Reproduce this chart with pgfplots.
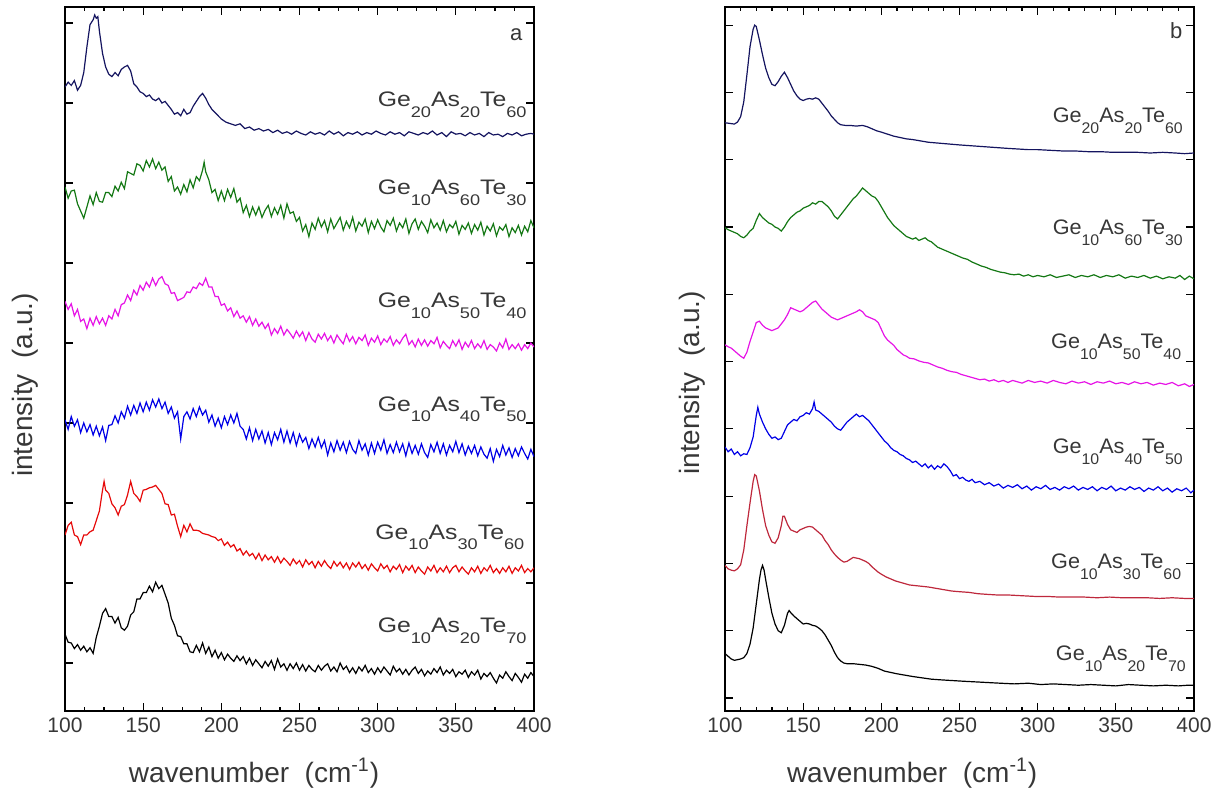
\documentclass[border=0pt]{standalone}
\usepackage{fontspec}
\setmainfont{Liberation Sans}
\usepackage{pgfplots}
\pgfplotsset{compat=1.18}

\definecolor{cnavy}{RGB}{20,20,95}
\definecolor{cgreen}{RGB}{20,120,20}
\definecolor{cmag}{RGB}{230,20,230}
\definecolor{cblue}{RGB}{0,0,230}
\definecolor{cred}{RGB}{230,10,10}
\definecolor{cdred}{RGB}{190,40,60}
\definecolor{txt}{RGB}{55,55,55}

\newcommand{\sub}[1]{\raisebox{-5.5pt}{\fontsize{7.7pt}{9pt}\selectfont #1}}
\newcommand{\comp}[3]{\scalebox{1.18}[1]{Ge\sub{#1}As\sub{#2}Te\sub{#3}}}
\newcommand{\compb}[3]{\scalebox{1.03}[1]{Ge\sub{#1}As\sub{#2}Te\sub{#3}}}

\tikzset{lab/.style={anchor=base east, inner sep=0pt, font=\fontsize{10.5pt}{12pt}\selectfont, text=txt}}

\pgfplotsset{
  spec/.style={
    anchor=south west, scale only axis,
    width=234.5pt, height=352pt,
    xmin=100, xmax=400,
    xtick={100,150,...,400},
    tick pos=both, tick align=inside,
    major tick length=4pt, minor tick length=2pt,
    yticklabels={},
    axis line style={line width=0.7pt}, every tick/.style={black, line width=0.6pt},
    /pgf/number format/assume math mode=true,
    ticklabel style={font=\fontsize{10.5pt}{12pt}\selectfont, text=txt},
    label style={font=\fontsize{14pt}{16pt}\selectfont, text=txt},
    xlabel={wavenumber\ \ (cm\textsuperscript{-1})},
    ylabel={intensity\ \ (a.u.)},
    every axis plot/.append style={line width=0.6pt, no marks},
  },
}

\begin{document}
\begin{tikzpicture}
\useasboundingbox (0,0) rectangle (610pt,396pt);

% ---------------- panel a ----------------
\begin{axis}[spec, at={(32.5pt,40.5pt)},
  ymin=-0.6, ymax=8.2, ytick={0,...,8}, minor x tick num=3,
  xlabel style={at={(axis description cs:0.403,-0.088)}, anchor=center},
  ylabel style={at={(axis description cs:-0.085,0.463)}, anchor=center},
]
\addplot[cnavy] coordinates {(100,7.20)(102,7.26)(104,7.22)(106,7.28)(108,7.16)(110,7.22)(112,7.38)(114,7.70)(116,7.98)(118,8.04)(119,8.10)(120,8.06)(121,8.08)(122,7.90)(124,7.62)(126,7.45)(128,7.36)(130,7.33)(132,7.38)(134,7.34)(136,7.42)(138,7.45)(140,7.47)(142,7.40)(144,7.24)(146,7.20)(148,7.14)(150,7.12)(152,7.08)(154,7.10)(156,7.05)(158,7.03)(160,7.06)(162,7.00)(164,7.02)(166,6.97)(168,6.92)(170,6.86)(172,6.88)(174,6.84)(176,6.92)(178,6.86)(180,6.88)(182,6.96)(184,7.02)(186,7.08)(188,7.12)(190,7.06)(192,6.98)(194,6.92)(196,6.88)(198,6.84)(200,6.80)(203,6.76)(206,6.74)(209,6.72)(212,6.74)(215,6.68)(218,6.70)(221,6.66)(224,6.68)(227,6.65)(230,6.67)(233,6.63)(236,6.66)(239,6.62)(242,6.64)(245,6.61)(248,6.65)(251,6.62)(254,6.60)(257,6.64)(260,6.61)(263,6.63)(266,6.60)(269,6.65)(272,6.61)(275,6.64)(278,6.59)(281,6.63)(284,6.61)(287,6.64)(290,6.60)(293,6.63)(296,6.61)(299,6.65)(302,6.62)(305,6.60)(308,6.64)(311,6.61)(314,6.63)(317,6.59)(320,6.64)(323,6.62)(326,6.60)(329,6.63)(332,6.61)(335,6.65)(338,6.60)(341,6.63)(344,6.58)(347,6.64)(350,6.61)(353,6.62)(356,6.59)(359,6.63)(362,6.60)(365,6.62)(368,6.58)(371,6.63)(374,6.60)(377,6.61)(380,6.58)(383,6.62)(386,6.60)(389,6.63)(392,6.59)(395,6.61)(398,6.62)(400,6.61)};
\addplot[cgreen] coordinates {(100,5.95)(102,5.81)(104,5.90)(106,5.91)(108,5.74)(110,5.65)(112,5.56)(114,5.70)(116,5.84)(118,5.73)(120,5.88)(122,5.77)(124,5.76)(126,5.88)(128,5.88)(130,5.83)(132,5.96)(134,5.90)(136,6.01)(138,5.93)(140,6.14)(142,6.12)(144,6.10)(146,6.24)(148,6.22)(150,6.15)(152,6.28)(154,6.20)(156,6.30)(158,6.18)(160,6.26)(162,6.16)(164,6.20)(166,6.02)(168,6.08)(170,5.90)(172,5.95)(174,5.86)(176,5.98)(178,5.89)(180,6.04)(182,5.94)(184,6.08)(186,6.03)(188,6.16)(189,6.26)(190,6.14)(192,6.04)(194,5.88)(196,5.92)(198,5.78)(200,5.90)(202,5.78)(204,5.92)(206,5.82)(208,5.93)(210,5.76)(212,5.81)(214,5.63)(216,5.72)(218,5.58)(220,5.70)(222,5.60)(224,5.70)(226,5.57)(228,5.66)(230,5.72)(232,5.58)(234,5.69)(236,5.61)(238,5.72)(240,5.56)(242,5.74)(244,5.62)(246,5.64)(248,5.52)(250,5.57)(252,5.40)(254,5.48)(256,5.33)(258,5.50)(260,5.42)(262,5.56)(264,5.45)(266,5.53)(268,5.39)(270,5.55)(272,5.43)(274,5.50)(276,5.57)(278,5.41)(280,5.52)(282,5.44)(284,5.57)(286,5.40)(288,5.51)(290,5.46)(292,5.55)(294,5.38)(296,5.52)(298,5.43)(300,5.54)(302,5.45)(304,5.39)(306,5.53)(308,5.47)(310,5.56)(312,5.40)(314,5.50)(316,5.44)(318,5.55)(320,5.37)(322,5.49)(324,5.55)(326,5.42)(328,5.52)(330,5.46)(332,5.38)(334,5.54)(336,5.44)(338,5.50)(340,5.41)(342,5.53)(344,5.39)(346,5.48)(348,5.44)(350,5.52)(352,5.36)(354,5.47)(356,5.42)(358,5.50)(360,5.37)(362,5.48)(364,5.41)(366,5.51)(368,5.35)(370,5.46)(372,5.40)(374,5.49)(376,5.34)(378,5.45)(380,5.41)(382,5.48)(384,5.33)(386,5.44)(388,5.38)(390,5.47)(392,5.35)(394,5.46)(396,5.39)(398,5.53)(400,5.44)};
\addplot[cmag] coordinates {(100,4.52)(102,4.42)(104,4.49)(106,4.34)(108,4.42)(110,4.27)(112,4.30)(114,4.18)(116,4.31)(118,4.22)(120,4.33)(122,4.24)(124,4.31)(126,4.22)(128,4.34)(130,4.30)(132,4.42)(134,4.34)(136,4.48)(138,4.50)(140,4.60)(142,4.53)(144,4.66)(146,4.60)(148,4.72)(150,4.66)(152,4.76)(154,4.70)(156,4.81)(158,4.72)(160,4.80)(162,4.83)(164,4.74)(166,4.72)(168,4.62)(170,4.63)(172,4.53)(174,4.55)(176,4.57)(178,4.64)(180,4.63)(182,4.70)(184,4.68)(186,4.75)(188,4.72)(190,4.81)(192,4.70)(194,4.70)(196,4.58)(198,4.58)(200,4.47)(202,4.49)(204,4.40)(206,4.44)(208,4.33)(210,4.40)(212,4.31)(214,4.34)(216,4.26)(218,4.33)(220,4.22)(222,4.30)(224,4.21)(226,4.26)(228,4.18)(230,4.24)(232,4.10)(234,4.18)(236,4.12)(238,4.21)(240,4.10)(242,4.17)(244,4.12)(246,4.06)(248,4.15)(250,4.08)(252,4.14)(254,4.03)(256,4.13)(258,4.05)(260,4.01)(262,4.11)(264,4.05)(266,4.12)(268,4.03)(270,4.09)(272,4.00)(274,4.10)(276,4.04)(278,3.99)(280,4.11)(282,4.02)(284,4.08)(286,3.99)(288,4.07)(290,4.03)(292,4.10)(294,3.97)(296,4.06)(298,4.01)(300,4.09)(302,3.98)(304,4.05)(306,4.01)(308,4.08)(310,3.97)(312,4.04)(314,3.99)(316,4.06)(318,4.11)(320,3.98)(322,4.03)(324,3.95)(326,4.05)(328,3.97)(330,4.04)(332,3.96)(334,4.03)(336,3.99)(338,4.07)(340,3.94)(342,4.02)(344,3.97)(346,3.93)(348,4.03)(350,3.96)(352,4.04)(354,3.92)(356,4.01)(358,3.95)(360,4.03)(362,3.93)(364,3.99)(366,3.94)(368,4.03)(370,3.92)(372,3.98)(374,3.95)(376,3.90)(378,4.00)(380,3.94)(382,4.05)(384,3.92)(386,3.98)(388,3.93)(390,3.99)(392,3.91)(394,3.98)(396,3.93)(398,4.00)(400,3.95)};
\addplot[cblue] coordinates {(100,3.04)(102,2.92)(104,3.08)(106,2.96)(108,3.04)(110,2.88)(112,3.00)(114,2.89)(116,2.98)(118,2.85)(120,2.96)(122,2.84)(124,2.95)(126,2.78)(128,2.97)(130,2.98)(132,3.09)(134,3.00)(136,3.14)(138,3.06)(140,3.21)(142,3.10)(144,3.22)(146,3.12)(148,3.25)(150,3.14)(152,3.26)(154,3.16)(156,3.29)(158,3.20)(160,3.30)(162,3.18)(164,3.26)(166,3.12)(168,3.20)(170,3.06)(172,3.14)(174,2.80)(176,3.08)(178,3.14)(180,3.05)(182,3.18)(184,3.08)(186,3.20)(188,3.10)(190,3.16)(192,3.01)(194,3.10)(196,2.96)(198,3.06)(200,2.94)(202,3.08)(204,2.98)(206,3.10)(208,3.00)(210,3.12)(212,2.96)(214,2.92)(216,2.80)(218,2.94)(220,2.78)(222,2.92)(224,2.80)(226,2.90)(228,2.75)(230,2.88)(232,2.73)(234,2.88)(236,2.79)(238,2.92)(240,2.76)(242,2.90)(244,2.75)(246,2.88)(248,2.72)(250,2.86)(252,2.76)(254,2.82)(256,2.68)(258,2.80)(260,2.70)(262,2.82)(264,2.69)(266,2.78)(268,2.60)(270,2.75)(272,2.64)(274,2.78)(276,2.66)(278,2.76)(280,2.63)(282,2.77)(284,2.67)(286,2.62)(288,2.78)(290,2.66)(292,2.74)(294,2.60)(296,2.75)(298,2.62)(300,2.76)(302,2.66)(304,2.79)(306,2.62)(308,2.73)(310,2.63)(312,2.76)(314,2.64)(316,2.74)(318,2.59)(320,2.75)(322,2.62)(324,2.72)(326,2.61)(328,2.74)(330,2.63)(332,2.57)(334,2.73)(336,2.64)(338,2.76)(340,2.62)(342,2.74)(344,2.60)(346,2.72)(348,2.64)(350,2.77)(352,2.63)(354,2.74)(356,2.60)(358,2.71)(360,2.62)(362,2.72)(364,2.59)(366,2.70)(368,2.61)(370,2.56)(372,2.68)(374,2.52)(376,2.67)(378,2.58)(380,2.72)(382,2.60)(384,2.69)(386,2.57)(388,2.68)(390,2.59)(392,2.70)(394,2.62)(396,2.55)(398,2.67)(400,2.58)};
\addplot[cred] coordinates {(100,1.60)(102,1.72)(104,1.76)(106,1.60)(108,1.58)(110,1.48)(112,1.60)(114,1.60)(116,1.64)(118,1.66)(120,1.78)(122,1.90)(124,2.16)(125,2.27)(126,2.16)(128,2.12)(130,1.99)(132,1.94)(134,1.85)(136,1.96)(138,1.98)(140,2.10)(142,2.27)(144,2.12)(146,2.08)(148,2.02)(150,2.16)(152,2.17)(154,2.19)(156,2.20)(158,2.22)(160,2.17)(162,2.12)(164,1.99)(166,1.98)(168,1.85)(170,1.86)(172,1.71)(174,1.58)(176,1.72)(178,1.64)(180,1.74)(182,1.66)(184,1.66)(186,1.65)(188,1.62)(190,1.61)(192,1.60)(194,1.58)(196,1.57)(198,1.53)(200,1.55)(202,1.47)(204,1.51)(206,1.45)(208,1.48)(210,1.40)(212,1.43)(214,1.35)(216,1.40)(218,1.34)(220,1.37)(222,1.30)(224,1.37)(226,1.28)(228,1.35)(230,1.29)(232,1.33)(234,1.26)(236,1.33)(238,1.25)(240,1.31)(242,1.27)(244,1.22)(246,1.30)(248,1.24)(250,1.28)(252,1.20)(254,1.29)(256,1.23)(258,1.27)(260,1.19)(262,1.27)(264,1.21)(266,1.28)(268,1.22)(270,1.18)(272,1.27)(274,1.21)(276,1.26)(278,1.19)(280,1.25)(282,1.17)(284,1.25)(286,1.20)(288,1.26)(290,1.18)(292,1.23)(294,1.16)(296,1.24)(298,1.19)(300,1.15)(302,1.24)(304,1.18)(306,1.22)(308,1.14)(310,1.21)(312,1.17)(314,1.23)(316,1.13)(318,1.21)(320,1.16)(322,1.22)(324,1.13)(326,1.20)(328,1.15)(330,1.11)(332,1.20)(334,1.15)(336,1.22)(338,1.13)(340,1.19)(342,1.14)(344,1.21)(346,1.13)(348,1.19)(350,1.22)(352,1.14)(354,1.20)(356,1.15)(358,1.11)(360,1.19)(362,1.14)(364,1.21)(366,1.12)(368,1.19)(370,1.15)(372,1.22)(374,1.13)(376,1.18)(378,1.12)(380,1.19)(382,1.14)(384,1.21)(386,1.12)(388,1.19)(390,1.15)(392,1.22)(394,1.13)(396,1.18)(398,1.14)(400,1.19)};
\addplot[black] coordinates {(100,0.36)(102,0.26)(104,0.25)(106,0.18)(108,0.23)(110,0.16)(112,0.21)(114,0.14)(116,0.19)(118,0.12)(120,0.32)(122,0.46)(124,0.62)(126,0.68)(128,0.58)(130,0.58)(132,0.50)(134,0.57)(136,0.44)(138,0.41)(140,0.46)(142,0.60)(144,0.64)(146,0.80)(148,0.80)(150,0.88)(152,0.88)(154,0.96)(156,0.89)(158,1.01)(160,0.93)(162,0.97)(164,0.86)(166,0.75)(168,0.56)(170,0.47)(172,0.34)(174,0.33)(176,0.24)(178,0.24)(180,0.14)(182,0.13)(184,0.22)(186,0.14)(188,0.25)(190,0.12)(192,0.20)(194,0.08)(196,0.16)(198,0.06)(200,0.13)(202,0.04)(204,0.11)(206,0.06)(208,0.02)(210,0.09)(212,0.03)(214,0.08)(216,-0.01)(218,0.06)(220,-0.03)(222,0.04)(224,-0.01)(226,-0.06)(228,0.02)(230,-0.04)(232,0.03)(234,-0.08)(236,0.05)(238,-0.05)(240,-0.01)(242,-0.09)(244,-0.01)(246,-0.07)(248,0.00)(250,-0.09)(252,-0.02)(254,-0.10)(256,-0.03)(258,-0.08)(260,-0.11)(262,-0.03)(264,-0.09)(266,-0.04)(268,-0.01)(270,-0.10)(272,-0.05)(274,-0.11)(276,0.00)(278,-0.08)(280,-0.04)(282,-0.12)(284,-0.06)(286,-0.13)(288,-0.05)(290,-0.10)(292,-0.03)(294,-0.12)(296,-0.07)(298,-0.14)(300,-0.06)(302,-0.12)(304,-0.05)(306,-0.10)(308,-0.15)(310,-0.04)(312,-0.11)(314,-0.07)(316,-0.14)(318,-0.08)(320,-0.15)(322,-0.09)(324,-0.05)(326,-0.13)(328,-0.08)(330,-0.16)(332,-0.10)(334,-0.14)(336,-0.07)(338,-0.12)(340,-0.05)(342,-0.15)(344,-0.09)(346,-0.13)(348,-0.08)(350,-0.17)(352,-0.11)(354,-0.14)(356,-0.09)(358,-0.18)(360,-0.11)(362,-0.15)(364,-0.09)(366,-0.20)(368,-0.13)(370,-0.17)(372,-0.12)(374,-0.19)(376,-0.25)(378,-0.15)(380,-0.19)(382,-0.11)(384,-0.17)(386,-0.22)(388,-0.13)(390,-0.18)(392,-0.24)(394,-0.14)(396,-0.19)(398,-0.12)(400,-0.17)};
\node[lab] at (axis cs:395.5,6.96) {\comp{20}{20}{60}};
\node[lab] at (axis cs:395.5,5.86) {\comp{10}{60}{30}};
\node[lab] at (axis cs:395.5,4.44) {\comp{10}{50}{40}};
\node[lab] at (axis cs:395.5,3.15) {\comp{10}{40}{50}};
\node[lab] at (axis cs:394,1.55) {\comp{10}{30}{60}};
\node[lab] at (axis cs:395.5,0.38) {\comp{10}{20}{70}};
\node[text=txt, font=\fontsize{11pt}{13pt}\selectfont] at (rel axis cs:0.962,0.96) {a};
\end{axis}

% ---------------- panel b ----------------
\begin{axis}[spec, at={(362.5pt,40.5pt)},
  ymin=-0.193, ymax=10.27, ytick={0,...,10}, minor x tick num=4,
  xlabel style={at={(axis description cs:0.399,-0.088)}, anchor=center},
  ylabel style={at={(axis description cs:-0.07,0.466)}, anchor=center},
]
\addplot[cnavy] coordinates {(100,8.55)(103,8.54)(106,8.53)(108,8.56)(110,8.64)(112,8.86)(114,9.26)(116,9.68)(118,9.94)(119,10.00)(120,9.98)(122,9.78)(124,9.56)(126,9.36)(128,9.22)(130,9.12)(132,9.10)(134,9.16)(136,9.24)(138,9.30)(140,9.22)(142,9.12)(144,9.02)(146,8.95)(148,8.90)(150,8.88)(152,8.90)(154,8.91)(156,8.90)(158,8.92)(160,8.90)(162,8.84)(164,8.78)(166,8.72)(168,8.65)(170,8.60)(172,8.55)(174,8.52)(177,8.51)(180,8.51)(184,8.50)(188,8.51)(191,8.49)(194,8.46)(197,8.43)(200,8.41)(204,8.38)(208,8.35)(212,8.33)(216,8.31)(220,8.30)(225,8.28)(230,8.26)(235,8.25)(240,8.24)(245,8.23)(250,8.22)(256,8.21)(262,8.20)(268,8.19)(274,8.18)(280,8.17)(287,8.16)(294,8.15)(300,8.15)(308,8.14)(316,8.13)(324,8.13)(332,8.12)(340,8.12)(348,8.11)(356,8.11)(364,8.11)(372,8.10)(380,8.11)(388,8.10)(394,8.09)(400,8.10)};
\addplot[cgreen] coordinates {(100,6.99)(102,6.96)(104,6.94)(106,6.92)(108,6.90)(110,6.86)(112,6.84)(114,6.88)(116,6.94)(118,6.98)(120,7.10)(122,7.20)(124,7.14)(126,7.10)(128,7.06)(130,7.04)(132,7.00)(134,6.98)(136,6.94)(138,7.00)(140,7.08)(142,7.14)(144,7.18)(146,7.22)(148,7.24)(150,7.28)(152,7.30)(154,7.32)(156,7.36)(158,7.34)(160,7.38)(162,7.38)(164,7.34)(166,7.30)(168,7.24)(170,7.16)(172,7.12)(174,7.18)(176,7.24)(178,7.30)(180,7.36)(182,7.42)(184,7.46)(186,7.52)(188,7.58)(190,7.54)(192,7.50)(194,7.46)(196,7.44)(198,7.38)(200,7.30)(202,7.22)(204,7.14)(206,7.08)(208,7.02)(210,6.98)(212,6.94)(214,6.90)(216,6.86)(218,6.84)(220,6.82)(222,6.84)(224,6.80)(226,6.82)(228,6.84)(230,6.80)(232,6.78)(234,6.74)(236,6.70)(238,6.68)(240,6.66)(243,6.63)(246,6.60)(249,6.57)(252,6.54)(255,6.52)(258,6.48)(261,6.45)(264,6.42)(267,6.40)(270,6.37)(273,6.35)(276,6.33)(279,6.32)(282,6.30)(285,6.29)(288,6.30)(291,6.27)(294,6.29)(297,6.26)(300,6.28)(304,6.26)(308,6.29)(312,6.25)(316,6.27)(320,6.29)(324,6.25)(328,6.28)(332,6.26)(336,6.29)(340,6.25)(344,6.28)(348,6.26)(352,6.29)(356,6.24)(360,6.27)(364,6.25)(368,6.28)(372,6.24)(376,6.27)(380,6.23)(384,6.26)(388,6.24)(391,6.28)(394,6.22)(397,6.27)(400,6.23)};
\addplot[cmag] coordinates {(100,5.25)(102,5.22)(104,5.20)(106,5.16)(108,5.12)(110,5.08)(112,5.05)(114,5.14)(116,5.30)(118,5.44)(120,5.58)(122,5.60)(124,5.54)(126,5.50)(128,5.48)(130,5.46)(132,5.48)(134,5.50)(136,5.56)(138,5.62)(140,5.70)(142,5.80)(144,5.78)(146,5.76)(148,5.74)(150,5.76)(152,5.80)(154,5.84)(156,5.88)(158,5.90)(160,5.84)(162,5.78)(164,5.74)(166,5.70)(168,5.66)(170,5.64)(172,5.62)(174,5.64)(176,5.66)(178,5.68)(180,5.70)(182,5.72)(184,5.74)(186,5.77)(188,5.74)(190,5.68)(192,5.66)(194,5.64)(196,5.62)(198,5.58)(200,5.48)(202,5.38)(204,5.32)(206,5.28)(208,5.24)(210,5.18)(212,5.14)(214,5.10)(216,5.08)(218,5.05)(221,5.04)(224,5.01)(227,4.99)(230,4.98)(233,4.95)(236,4.92)(239,4.90)(242,4.87)(245,4.85)(248,4.84)(251,4.81)(254,4.79)(257,4.77)(260,4.75)(263,4.73)(266,4.74)(269,4.71)(272,4.73)(275,4.70)(278,4.72)(281,4.69)(284,4.72)(287,4.70)(290,4.68)(294,4.72)(298,4.69)(302,4.71)(306,4.68)(310,4.72)(314,4.69)(318,4.67)(322,4.71)(326,4.68)(330,4.70)(334,4.66)(338,4.70)(342,4.68)(346,4.71)(350,4.67)(354,4.69)(358,4.66)(362,4.70)(366,4.67)(370,4.69)(374,4.65)(378,4.68)(382,4.66)(386,4.69)(390,4.64)(394,4.67)(397,4.63)(400,4.66)};
\addplot[cblue] coordinates {(100,3.73)(102,3.66)(104,3.70)(106,3.62)(108,3.66)(110,3.60)(112,3.63)(114,3.62)(116,3.72)(118,3.88)(120,4.20)(121,4.32)(122,4.22)(124,4.10)(126,4.00)(128,3.92)(130,3.86)(132,3.88)(134,3.84)(136,3.86)(138,3.96)(140,4.06)(142,4.10)(144,4.14)(146,4.12)(148,4.18)(150,4.20)(152,4.24)(154,4.22)(156,4.30)(157,4.40)(158,4.28)(160,4.26)(162,4.22)(164,4.18)(166,4.14)(168,4.10)(170,4.04)(172,4.00)(174,3.98)(176,4.04)(178,4.10)(180,4.14)(182,4.18)(184,4.22)(186,4.18)(188,4.20)(190,4.16)(192,4.12)(194,4.06)(196,4.00)(198,3.94)(200,3.88)(202,3.82)(204,3.78)(206,3.72)(208,3.68)(210,3.66)(212,3.62)(214,3.60)(216,3.56)(218,3.54)(220,3.50)(222,3.52)(224,3.48)(226,3.44)(228,3.48)(230,3.42)(232,3.46)(234,3.40)(236,3.45)(238,3.42)(240,3.48)(242,3.44)(244,3.38)(246,3.30)(248,3.32)(250,3.26)(252,3.28)(254,3.24)(256,3.22)(258,3.25)(260,3.20)(263,3.22)(266,3.17)(269,3.20)(272,3.15)(275,3.18)(278,3.12)(281,3.16)(284,3.13)(287,3.17)(290,3.11)(293,3.15)(296,3.09)(299,3.14)(302,3.11)(305,3.16)(308,3.10)(311,3.13)(314,3.09)(317,3.14)(320,3.11)(323,3.15)(326,3.09)(329,3.13)(332,3.10)(335,3.14)(338,3.08)(341,3.13)(344,3.10)(347,3.15)(350,3.08)(353,3.12)(356,3.09)(359,3.14)(362,3.10)(365,3.13)(368,3.07)(371,3.12)(374,3.09)(377,3.14)(380,3.08)(383,3.12)(386,3.06)(389,3.11)(392,3.08)(395,3.12)(398,3.05)(400,3.09)};
\addplot[cdred] coordinates {(100,1.97)(102,1.92)(104,1.90)(106,1.89)(108,1.92)(110,1.98)(112,2.20)(114,2.56)(116,2.90)(118,3.22)(119,3.32)(120,3.30)(122,3.08)(124,2.80)(126,2.56)(128,2.42)(130,2.32)(132,2.30)(134,2.38)(136,2.56)(137,2.70)(138,2.70)(140,2.58)(142,2.50)(144,2.48)(146,2.46)(148,2.50)(150,2.52)(152,2.54)(154,2.55)(156,2.54)(158,2.50)(160,2.46)(162,2.42)(164,2.34)(166,2.28)(168,2.20)(170,2.14)(172,2.09)(174,2.05)(176,2.02)(178,2.03)(180,2.06)(182,2.09)(184,2.08)(186,2.07)(188,2.05)(190,2.03)(192,2.00)(194,1.95)(196,1.91)(198,1.87)(200,1.84)(203,1.80)(206,1.77)(209,1.74)(212,1.72)(215,1.70)(218,1.68)(222,1.67)(226,1.66)(230,1.65)(235,1.63)(240,1.61)(245,1.59)(250,1.58)(256,1.57)(262,1.55)(268,1.54)(275,1.53)(282,1.53)(290,1.52)(298,1.51)(306,1.51)(314,1.50)(322,1.50)(330,1.50)(338,1.49)(346,1.50)(354,1.49)(362,1.49)(370,1.49)(378,1.48)(386,1.49)(394,1.48)(400,1.48)};
\addplot[black] coordinates {(100,0.66)(102,0.62)(104,0.58)(106,0.56)(108,0.57)(110,0.58)(112,0.60)(114,0.66)(116,0.80)(118,1.04)(120,1.40)(122,1.76)(123,1.90)(124,1.97)(125,1.90)(126,1.76)(128,1.50)(130,1.26)(132,1.10)(134,1.00)(136,0.97)(138,1.08)(140,1.26)(141,1.30)(142,1.27)(144,1.22)(146,1.18)(148,1.14)(150,1.10)(152,1.11)(154,1.10)(156,1.08)(158,1.07)(160,1.04)(162,1.00)(164,0.94)(166,0.86)(168,0.78)(170,0.68)(172,0.60)(174,0.55)(176,0.52)(178,0.51)(182,0.51)(186,0.50)(190,0.49)(194,0.47)(198,0.44)(202,0.40)(206,0.38)(210,0.36)(215,0.34)(220,0.32)(226,0.30)(232,0.28)(238,0.27)(245,0.26)(252,0.25)(260,0.24)(268,0.23)(276,0.22)(285,0.21)(294,0.22)(302,0.20)(310,0.21)(318,0.20)(326,0.19)(334,0.20)(342,0.19)(350,0.18)(358,0.20)(366,0.19)(374,0.18)(382,0.19)(390,0.18)(396,0.19)(400,0.19)};
\node[lab] at (axis cs:393,8.56) {\compb{20}{20}{60}};
\node[lab] at (axis cs:393,6.89) {\compb{10}{60}{30}};
\node[lab] at (axis cs:392,5.20) {\compb{10}{50}{40}};
\node[lab] at (axis cs:393,3.63) {\compb{10}{40}{50}};
\node[lab] at (axis cs:392,1.92) {\compb{10}{30}{60}};
\node[lab] at (axis cs:395,0.56) {\compb{10}{20}{70}};
\node[text=txt, font=\fontsize{11pt}{13pt}\selectfont] at (rel axis cs:0.962,0.967) {b};
\end{axis}
\end{tikzpicture}
\end{document}
